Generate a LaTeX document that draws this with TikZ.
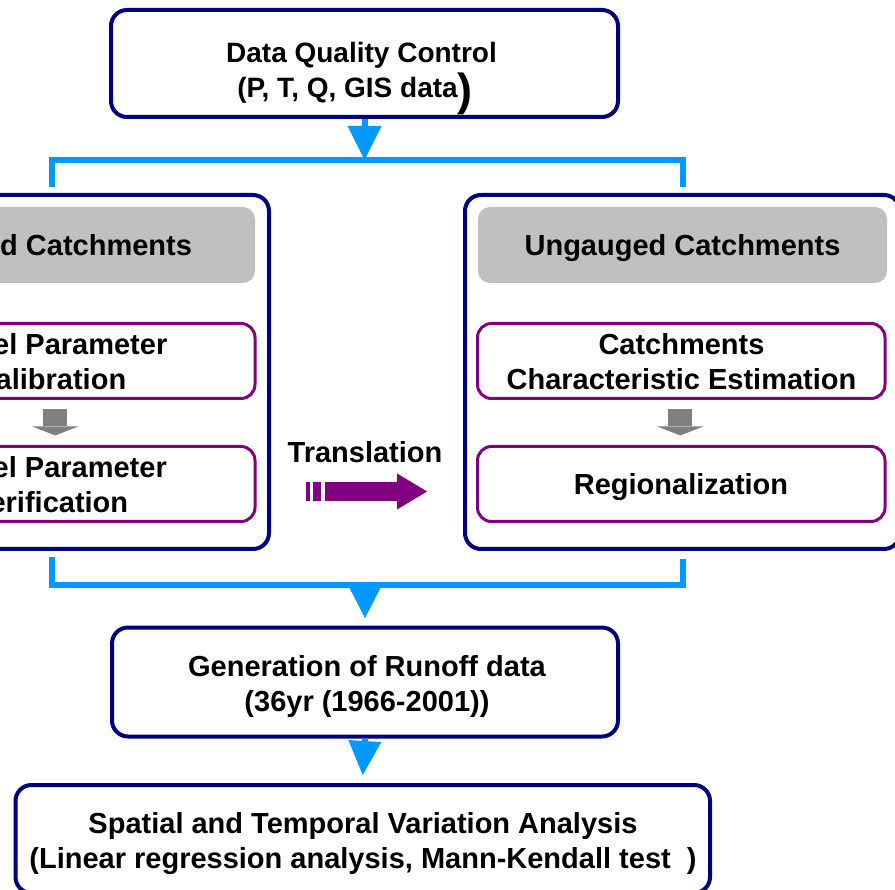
\documentclass[tikz,border=0pt]{standalone}
\usepackage{fontspec}
\setmainfont{Liberation Sans}
\usetikzlibrary{arrows.meta,calc}
\definecolor{navy}{RGB}{0,0,128}
\definecolor{skyb}{RGB}{0,153,255}
\definecolor{purp}{RGB}{128,0,128}
\definecolor{hdrgray}{RGB}{192,192,192}
\definecolor{arrgray}{RGB}{128,128,128}
\begin{document}
\begin{tikzpicture}[x=1pt,y=1pt,
  mainbox/.style={draw=navy, line width=4pt, rounded corners=16pt, inner sep=0pt, fill=white},
  subbox/.style={draw=purp, line width=3pt, rounded corners=14pt, inner sep=0pt},
  header/.style={fill=hdrgray, rounded corners=12pt, inner sep=0pt},
  txt/.style={font=\fontsize{29}{35}\selectfont\bfseries, align=center, anchor=base, inner sep=0pt},
  txtsm/.style={font=\fontsize{28}{35}\selectfont\bfseries, align=center, anchor=base, inner sep=0pt},
  conn/.style={draw=skyb, line width=6pt},
  grayarrow/.style={draw=arrgray, line width=24pt, -{Triangle[width=46pt,length=9pt,line width=0pt]}, shorten <=9.5pt, shorten >=9.5pt}
]
\useasboundingbox (0,0) rectangle (895,-890);
\fill[white] (0,0) rectangle (895,-890);

% coordinates for connectors
\coordinate (hl) at (365,-160);
\coordinate (hb) at (365,-585);

% boxes
\node[mainbox, minimum width=507pt, minimum height=107pt] (dq) at (364.5,-63.5) {};
\node[mainbox, minimum width=435pt, minimum height=354pt] (lb) at (51.5,-372) {};
\node[mainbox, minimum width=435pt, minimum height=354pt] (rb) at (682.5,-372) {};
\node[header, minimum width=409pt, minimum height=76pt] (lh) at (50.5,-245) {};
\node[header, minimum width=409pt, minimum height=76pt] (rh) at (682.5,-245) {};
\node[subbox, minimum width=407.5pt, minimum height=75pt] (lc1) at (51.25,-361) {};
\node[subbox, minimum width=407.5pt, minimum height=75pt] (lc2) at (51.25,-484) {};
\node[subbox, minimum width=407.5pt, minimum height=75pt] (rc1) at (681.25,-361) {};
\node[subbox, minimum width=407.5pt, minimum height=75pt] (rc2) at (681.25,-484) {};
\node[mainbox, minimum width=506pt, minimum height=109pt] (gen) at (365,-682) {};
\node[mainbox, minimum width=694.5pt, minimum height=108pt] (bt) at (362.75,-839) {};

% connectors
\draw[conn] ([yshift=6pt]lb.north) -- (lb.north |- hl) -- (rb.north |- hl) -- ([yshift=6pt]rb.north);
\draw[conn, -{Triangle[width=34pt,length=34pt,line width=0pt]}] (dq.south) -- (dq.south |- hl);
\draw[conn] ([yshift=-6pt]lb.south) -- (lb.south |- hb) -- (rb.south |- hb) -- ([yshift=-8pt]rb.south);
\draw[conn, -{Triangle[width=33pt,length=32pt,line width=0pt]}] (hb) -- ([yshift=7.5pt]gen.north);
\draw[conn, -{Triangle[width=33pt,length=34pt,line width=0pt]}] (gen.south) -- ([yshift=8pt]bt.north);

\draw[grayarrow] ([xshift=4pt]lc1.south) -- ([xshift=4pt]lc2.north);
\draw[grayarrow] ([xshift=-1pt]rc1.south) -- ([xshift=-1pt]rc2.north);

% translation arrow
\coordinate (tr1) at (325,-491.5);
\coordinate (tr2) at (427,-491.5);
\fill[purp] (306,-482) rectangle (310,-501);
\fill[purp] (313,-482) rectangle (321,-501);
\draw[draw=purp, line width=19pt, -{Triangle[width=36pt,length=30pt,line width=0pt]}] (tr1) -- (tr2);

% texts (base anchor = baseline of the last line)
\node[txtsm] (dqt) at (361.5,-98) {Data Quality Control\\(P, T, Q, GIS data\raisebox{-7.6pt}{\fontsize{45}{45}\selectfont )}\hspace*{13pt}};
\node[txt] (lht) at (51,-256) {Gauged Catchments};
\node[txt] (rht) at (682.5,-256) {Ungauged Catchments};
\node[txt] (lc1t) at (50.5,-390) {Model Parameter\\Calibration};
\node[txt] (lc2t) at (50,-513) {Model Parameter\\Verification};
\node[txt] (rc1t) at (681.5,-390) {Catchments\\Characteristic Estimation};
\node[txt] (rc2t) at (681,-495) {Regionalization};
\node[txt] (trt) at (365,-463) {Translation};
\node[txt] (gent) at (367,-711) {Generation of Runoff data\\(36yr (1966-2001))};
\node[txt] (btt) at (363,-868) {Spatial and Temporal Variation Analysis\\(Linear regression analysis, Mann-Kendall test\ \ )};
\end{tikzpicture}
\end{document}
